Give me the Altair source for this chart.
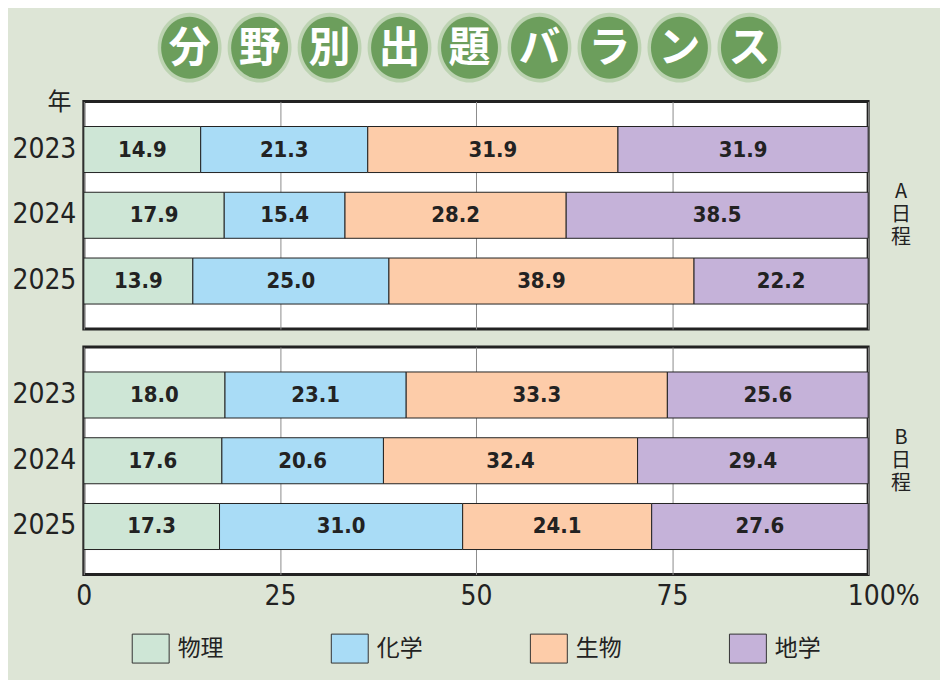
import altair as alt
import pandas as pd

# ---------------- data ----------------
title_chars = ["分", "野", "別", "出", "題", "バ", "ラ", "ン", "ス"]
subjects = ["物理", "化学", "生物", "地学"]
colors = ["#cee6d6", "#a9dcf6", "#fdcca9", "#c5b2d9"]
years = ["2023", "2024", "2025"]
schedules = ["A", "B"]
side_labels = ["A\n日\n程", "B\n日\n程"]

a_2023 = [14.9, 21.3, 31.9, 31.9]
a_2024 = [17.9, 15.4, 28.2, 38.5]
a_2025 = [13.9, 25.0, 38.9, 22.2]
b_2023 = [18.0, 23.1, 33.3, 25.6]
b_2024 = [17.6, 20.6, 32.4, 29.4]
b_2025 = [17.3, 31.0, 24.1, 27.6]

x_ticks = [0, 25, 50, 75, 100]

series = {
    "A": [a_2023, a_2024, a_2025],
    "B": [b_2023, b_2024, b_2025],
}
rows = []
for s in schedules:
    for yi, y in enumerate(years):
        for si, subj in enumerate(subjects):
            rows.append({"schedule": s, "year": y, "subject": subj,
                         "order": si, "value": series[s][yi][si]})
df = pd.DataFrame(rows)

# ---------------- styles ----------------
NARROW = "Liberation Sans Narrow, DejaVu Sans Condensed, Roboto Condensed, sans-serif"
CJK = "Noto Sans CJK JP"
W = 786
H = 228
BG = "#dde5d6"

legend = alt.Legend(
    title=None,
    orient="none",
    legendX=48,
    legendY=620,
    direction="horizontal",
    columns=4,
    symbolType="M-1,-0.784L1,-0.784L1,0.784L-1,0.784Z",
    symbolSize=1369,
    symbolStrokeColor="#333333",
    symbolStrokeWidth=1,
    symbolOpacity=1,
    labelFont=CJK,
    labelFontSize=23,
    labelColor="#222222",
    labelOffset=8,
    columnPadding=105.5,
)


def panel(sched, label, first, last):
    base = (
        alt.Chart(df)
        .transform_filter(alt.datum.schedule == sched)
        .transform_stack(
            stack="value",
            groupby=["schedule", "year"],
            sort=[alt.SortField("order", order="ascending")],
            as_=["x0", "x1"],
        )
        .transform_calculate(mid="(datum.x0 + datum.x1) / 2")
    )

    xaxis_kw = dict(
        values=x_ticks,
        grid=True,
        gridColor="#8c8c8c",
        gridWidth=1,
        ticks=False,
        domain=False,
        labels=last,
        labelFlush=False,
        title=None,
    )
    if last:
        xaxis_kw.update(
            labelFont=NARROW,
            labelFontSize=28,
            labelColor="#222222",
            labelPadding=8,
            labelExpr="datum.value == 100 ? '100%' : datum.label",
            labelOffset={"condition": {"test": "datum.value === 100", "value": 15}, "value": 0},
        )
    yaxis_kw = dict(
        ticks=False,
        domain=False,
        grid=False,
        labelFont=NARROW,
        labelFontSize=28,
        labelColor="#222222",
        labelPadding=8,
    )
    if first:
        yaxis_kw.update(
            title="年",
            titleAngle=0,
            titleFont=CJK,
            titleFontSize=24,
            titleFontWeight="normal",
            titleColor="#222222",
            titleAlign="center",
            titleBaseline="middle",
            titleX=-25,
            titleY=1,
        )
    else:
        yaxis_kw["title"] = None

    yenc = alt.Y("year:N", sort=years,
                 scale=alt.Scale(paddingInner=0.3, paddingOuter=0.38),
                 axis=alt.Axis(**yaxis_kw))

    bars = base.mark_bar(stroke="#222222", strokeWidth=1).encode(
        x=alt.X("x0:Q", scale=alt.Scale(domain=[0, 100], nice=False),
                axis=alt.Axis(**xaxis_kw)),
        x2="x1:Q",
        y=yenc,
        fill=alt.Fill("subject:N", scale=alt.Scale(domain=subjects, range=colors),
                      legend=legend),
    )
    texts = base.mark_text(font=NARROW, fontWeight="bold", fontSize=22,
                           color="#222222", baseline="middle").encode(
        x=alt.X("mid:Q"),
        y=alt.Y("year:N", sort=years),
        text=alt.Text("value:Q", format=".1f"),
    )
    side = alt.Chart(pd.DataFrame({"t": [label]})).mark_text(
        font=CJK, fontSize=20, lineHeight=23, lineBreak="\n", color="#222222",
        align="center", baseline="middle",
    ).encode(x=alt.value(W + 33), y=alt.value(H / 2 - 23), text="t:N")

    return alt.layer(bars, texts, side).properties(width=W, height=H)


title_df = pd.DataFrame({"ch": title_chars, "idx": list(range(len(title_chars)))})
tbase = alt.Chart(title_df).encode(
    x=alt.X("idx:Q", scale=alt.Scale(domain=[0, 8], range=[106, 667]), axis=None),
    y=alt.value(37),
)
ELL = "M0,-1.09A1,1.09 0 1,1 0,1.09A1,1.09 0 1,1 0,-1.09Z"
halo = tbase.mark_point(shape=ELL, filled=True, size=4100, color="#bcd3b1",
                        opacity=1, strokeWidth=0)
disc = tbase.mark_point(shape=ELL, filled=True, size=3250, color="#6c9e5c",
                        opacity=1, strokeWidth=0)
chars = tbase.mark_text(font=CJK, fontWeight="bold", fontSize=42, color="white",
                        baseline="middle", align="center", dy=1).encode(text="ch:N")
title_chart = alt.layer(halo, disc, chars).properties(
    width=W, height=83,
    view=alt.ViewBackground(stroke="transparent", fill="transparent"),
)

pA = panel("A", side_labels[0], True, False)
pB = panel("B", side_labels[1], False, True)

chart = alt.vconcat(
    title_chart,
    alt.vconcat(pA, pB, spacing=18, bounds="flush"),
    spacing=8,
    bounds="flush",
).configure(
    background=BG,
    padding={"left": 2, "top": 0, "right": 19, "bottom": 14},
).configure_view(
    stroke="#222222", strokeWidth=3, fill="white",
)

chart.save("out.html", embed_options={"renderer": "svg", "actions": False})
